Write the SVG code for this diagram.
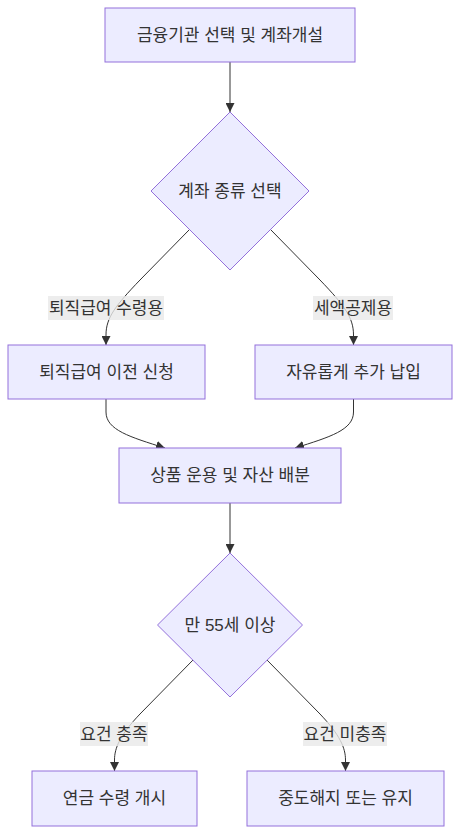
<svg xmlns="http://www.w3.org/2000/svg" width="460" height="834" viewBox="0 0 460 834">
<style>
.node rect,.node polygon{fill:#ECECFF;stroke:#9370DB;stroke-width:1}
text{font-family:"Liberation Sans","Noto Sans CJK KR",sans-serif;font-size:17px;fill:#333333;text-anchor:middle;dominant-baseline:central}
.edge{fill:none;stroke:#333333;stroke-width:1}
.lbl rect{fill:#e8e8e8;opacity:0.8}
</style>
<defs>
<marker id="arr" viewBox="0 0 10 10" refX="10" refY="5" markerWidth="9" markerHeight="9" markerUnits="userSpaceOnUse" orient="auto">
<path d="M0,0 L10,5 L0,10 z" fill="#333333"/>
</marker>
</defs>
<rect width="460" height="834" fill="#ffffff"/>
<g id="edges">
<path class="edge" d="M230,62 L230,112" marker-end="url(#arr)"/>
<path class="edge" d="M189,230 L140,280 C115,306 106,318 106,335 L106,345" marker-end="url(#arr)"/>
<path class="edge" d="M271,230 L320,280 C345,306 353.5,318 353.5,335 L353.5,345" marker-end="url(#arr)"/>
<path class="edge" d="M106,399 L106,412 C106,430 130,437 165,448" marker-end="url(#arr)"/>
<path class="edge" d="M353.5,399 L353.5,412 C353.5,430 330,437 295,448" marker-end="url(#arr)"/>
<path class="edge" d="M230,503 L230,553" marker-end="url(#arr)"/>
<path class="edge" d="M193,660 L140,714 C120,735 114.5,748 114.5,760 L114.5,771" marker-end="url(#arr)"/>
<path class="edge" d="M267,660 L320,714 C340,735 345.5,748 345.5,760 L345.5,771" marker-end="url(#arr)"/>
<g class="lbl" id="label1"><rect x="48" y="296" width="116" height="24"/><text x="106" y="308">퇴직급여 수령용</text></g>
<g class="lbl" id="label2"><rect x="313" y="296" width="80" height="24"/><text x="353" y="308">세액공제용</text></g>
<g class="lbl" id="label3"><rect x="80" y="722" width="68" height="24"/><text x="114" y="734">요건 충족</text></g>
<g class="lbl" id="label4"><rect x="303" y="722" width="84" height="24"/><text x="345" y="734">요건 미충족</text></g>
</g>
<g id="A" class="node"><rect x="105" y="8" width="250" height="54"/><text x="230" y="35">금융기관 선택 및 계좌개설</text></g>
<g id="B" class="node"><polygon points="230,112 309,191 230,270 151,191"/><text x="230" y="191">계좌 종류 선택</text></g>
<g id="C" class="node"><rect x="8" y="345" width="197" height="54"/><text x="106.5" y="372">퇴직급여 이전 신청</text></g>
<g id="D" class="node"><rect x="255" y="345" width="197" height="54"/><text x="353.5" y="372">자유롭게 추가 납입</text></g>
<g id="E" class="node"><rect x="119" y="448" width="222" height="55"/><text x="230" y="475.5">상품 운용 및 자산 배분</text></g>
<g id="F" class="node"><polygon points="230,553 302.5,625 230,697 157.5,625"/><text x="230" y="625">만 55세 이상</text></g>
<g id="G" class="node"><rect x="32" y="771" width="165" height="55"/><text x="114.5" y="798.5">연금 수령 개시</text></g>
<g id="H" class="node"><rect x="247" y="771" width="197" height="55"/><text x="345.5" y="798.5">중도해지 또는 유지</text></g>
</svg>
